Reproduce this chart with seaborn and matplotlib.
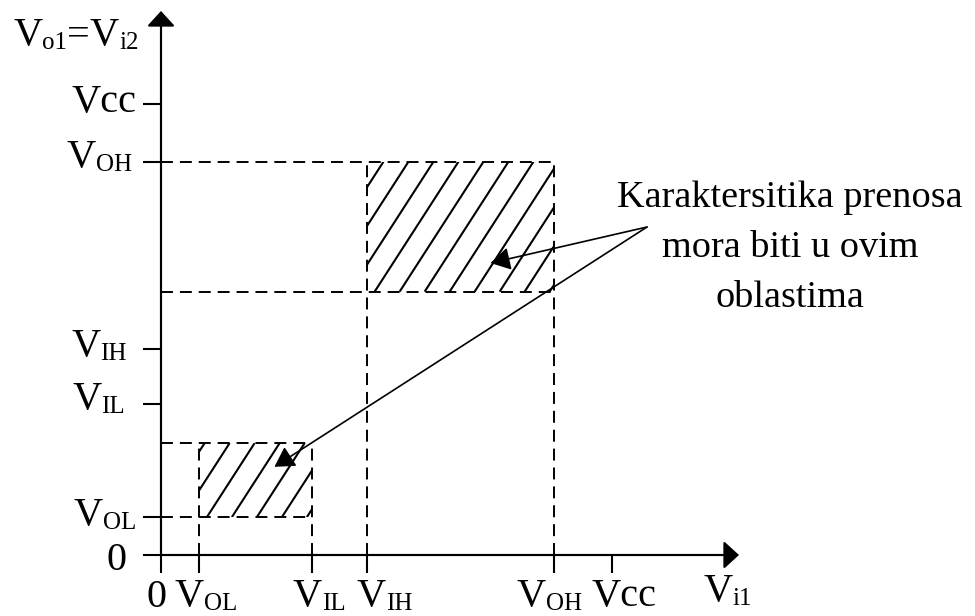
import numpy as np
import pandas as pd
import matplotlib
matplotlib.use("Agg")
import matplotlib.pyplot as plt
from matplotlib import transforms
from matplotlib.patches import Rectangle
from matplotlib.collections import LineCollection
import seaborn as sns

# Logic levels (volts), same scale on both axes
VCC = 5.0
V_OL = 0.42
V_IL = 1.67
V_IH = 2.28
V_OH = 4.36
# Output bands the transfer characteristic has to pass through
LOW_OUT_MAX = 1.24
HIGH_OUT_MIN = 2.92

x_ticks = [0, V_OL, V_IL, V_IH, V_OH, VCC]
x_tick_labels = [("0", ""), ("V", "OL"), ("V", "IL"), ("V", "IH"), ("V", "OH"), ("Vcc", "")]
y_ticks = [0, V_OL, V_IL, V_IH, V_OH, VCC]
y_tick_labels = [("0", ""), ("V", "OL"), ("V", "IL"), ("V", "IH"), ("V", "OH"), ("Vcc", "")]
x_axis_label = [("V", False), ("i1", True)]
y_axis_label = [("V", False), ("o1", True), ("=", False), ("V", False), ("i2", True)]
note_lines = ["Karaktersitika prenosa", "mora biti u ovim", "oblastima"]

# ---------------------------------------------------------------- layout
W, H, DPI = 975, 616, 100
PX = 90.2                 # pixels per volt
ORIGIN = (161, 555)       # pixel position of (0, 0), measured from top-left
MAIN_FS, SUB_FS, NOTE_FS = 29, 18, 27.5
SUB_DROP = 4              # px

sns.set_theme(style="white")
plt.rcParams["font.family"] = ["Liberation Serif", "DejaVu Serif"]
plt.rcParams["lines.scale_dashes"] = False

fig = plt.figure(figsize=(W / DPI, H / DPI), dpi=DPI)
ax = fig.add_axes([0, 0, 1, 1])
ax.set_xlim(-ORIGIN[0] / PX, (W - ORIGIN[0]) / PX)
ax.set_ylim(-(H - ORIGIN[1]) / PX, ORIGIN[1] / PX)
ax.patch.set_alpha(0)


def px(n):
    return n / PX


x_end = px(739 - ORIGIN[0])
y_end = px(ORIGIN[1] - 11)

# axes as spines through the origin, ticks pointing outwards
for side in ("top", "right"):
    ax.spines[side].set_visible(False)
for side in ("left", "bottom"):
    ax.spines[side].set_position(("data", 0))
    ax.spines[side].set_color("black")
    ax.spines[side].set_linewidth(1.5)
ax.spines["left"].set_bounds(0, y_end - px(6))
ax.spines["bottom"].set_bounds(0, x_end - px(6))
ax.set_xticks(x_ticks)
ax.set_yticks(y_ticks)
ax.set_xticklabels([])
ax.set_yticklabels([])
ax.tick_params(bottom=True, left=True, top=False, right=False,
               direction="out", length=13, width=1.5, color="black")

# arrow heads on the axes
axis_head = "-|>,head_length=0.94,head_width=0.86"
for tip in [(x_end, 0), (0, y_end)]:
    ax.annotate("", xy=tip, xytext=(0, 0),
                arrowprops=dict(arrowstyle=axis_head, color="black", lw=1.5,
                                shrinkA=0, shrinkB=0, mutation_scale=10))

# dashed guide lines
segments = [
    ((0, V_OH), (V_OH, V_OH)),
    ((0, HIGH_OUT_MIN), (V_OH, HIGH_OUT_MIN)),
    ((0, LOW_OUT_MAX), (V_IL, LOW_OUT_MAX)),
    ((0, V_OL), (V_IL, V_OL)),
    ((V_IH, 0), (V_IH, V_OH)),
    ((V_OH, 0), (V_OH, V_OH)),
    ((V_OL, 0), (V_OL, LOW_OUT_MAX)),
    ((V_IL, 0), (V_IL, LOW_OUT_MAX)),
]
rows = []
for i, (a, b) in enumerate(segments):
    rows.append({"seg": i, "x": a[0], "y": a[1]})
    rows.append({"seg": i, "x": b[0], "y": b[1]})
guides = pd.DataFrame(rows)
sns.lineplot(data=guides, x="x", y="y", units="seg", estimator=None, sort=False,
             color="black", lw=1.4, linestyle=(0, (8.6, 5.0)), legend=False, ax=ax)
ax.set_xlabel("")
ax.set_ylabel("")

# hatched acceptance regions
boxes = [(V_OL, V_IL, V_OL, LOW_OUT_MAX), (V_IH, V_OH, HIGH_OUT_MIN, V_OH)]
slope, step = 1.55, px(25)
for x0, x1, y0, y1 in boxes:
    rect = Rectangle((x0, y0), x1 - x0, y1 - y0, fill=False, lw=0)
    ax.add_patch(rect)
    height = y1 - y0
    starts = np.arange(x0 + px(8) - np.ceil(height / slope / step) * step, x1, step)
    lines = [[(s, y0), (s + height / slope, y1)] for s in starts]
    lc = LineCollection(lines, colors="black", linewidths=1.5)
    ax.add_collection(lc)
    lc.set_clip_path(rect)

# ---------------------------------------------------------------- labels
fig.canvas.draw()
renderer = fig.canvas.get_renderer()


def text_width(s, size):
    t = fig.text(0, 0, s, fontsize=size)
    w = t.get_window_extent(renderer).width
    t.remove()
    return w


def compose(parts, x, y, dx=0, dy=0, anchor="left"):
    """Write text with subscripts; (x, y) in data, dx/dy in pixels, baseline at y."""
    sizes = [SUB_FS if sub else MAIN_FS for _, sub in parts]
    widths = [text_width(s, fs) for (s, _), fs in zip(parts, sizes)]
    pos = dx - (sum(widths) if anchor == "right" else 0)
    for (s, sub), fs, w in zip(parts, sizes, widths):
        tr = transforms.offset_copy(ax.transData, fig=fig, x=pos,
                                    y=dy - (SUB_DROP if sub else 0), units="dots")
        ax.text(x, y, s, transform=tr, fontsize=fs, ha="left", va="baseline", color="black")
        pos += w


def split(label):
    main, sub = label
    return [(main, False)] + ([(sub, True)] if sub else [])


# y tick labels: right edge (px left of the axis) and baseline drop below the tick
y_right_gap = [34, 25, 36, 34, 29, 24]
y_drop = [15, 8, 5, 7, 5, 8]
for val, lab, gap, drop in zip(y_ticks, y_tick_labels, y_right_gap, y_drop):
    compose(split(lab), 0, val, dx=-gap, dy=-drop, anchor="right")

# x tick labels: left edge relative to the tick, common baseline
x_left = [-14, -24, -19, -10, -38, -21]
for val, lab, off in zip(x_ticks, x_tick_labels, x_left):
    compose(split(lab), val, 0, dx=off, dy=-(52 if lab[0] == "0" else 51))

compose(x_axis_label, 0, 0, dx=703 - ORIGIN[0], dy=-(601 - ORIGIN[1]))
compose(y_axis_label, 0, 0, dx=13 - ORIGIN[0], dy=ORIGIN[1] - 45)

# note with arrows into both regions
note_x = px(790 - ORIGIN[0])
for k, line in enumerate(note_lines):
    ax.text(note_x, px(ORIGIN[1] - (207 + 50 * k)), line, fontsize=NOTE_FS,
            ha="center", va="baseline", color="black")

start = (px(647 - ORIGIN[0]), px(ORIGIN[1] - 227))
tips = [(V_IH + 0.66 * (V_OH - V_IH), HIGH_OUT_MIN + 0.22 * (V_OH - HIGH_OUT_MIN)),
        (V_OL + 0.67 * (V_IL - V_OL), V_OL + 0.68 * (LOW_OUT_MAX - V_OL))]
for tip in tips:
    ax.annotate("", xy=tip, xytext=start,
                arrowprops=dict(arrowstyle="-|>,head_length=1.2,head_width=0.7",
                                color="black", lw=1.2, shrinkA=0, shrinkB=0,
                                mutation_scale=10))

fig.savefig("out.png", dpi=DPI, facecolor="white")
